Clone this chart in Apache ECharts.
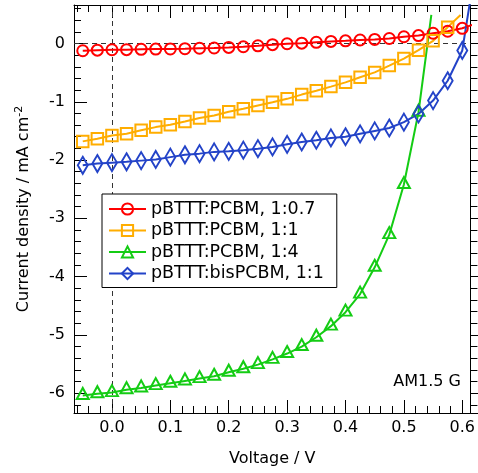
<!DOCTYPE html>
<html>
<head>
<meta charset="utf-8">
<script src="https://cdn.jsdelivr.net/npm/echarts@6/dist/echarts.min.js"></script>
<style>
html,body{margin:0;padding:0;background:#fff;}
#chart{width:478px;height:473px;}
</style>
</head>
<body>
<div id="chart"></div>
<script>
// Voltage sample points (V) where markers are drawn
const voltage = [-0.05, -0.025, 0.0, 0.025, 0.05, 0.075, 0.1, 0.125, 0.15, 0.175, 0.2, 0.225, 0.25, 0.275,
                 0.3, 0.325, 0.35, 0.375, 0.4, 0.425, 0.45, 0.475, 0.5, 0.525, 0.55, 0.575, 0.6];

// Current density (mA cm^-2)
const pcbm07 = [-0.125, -0.115, -0.108, -0.106, -0.100, -0.096, -0.094, -0.090, -0.082, -0.078, -0.068, -0.056, -0.040, -0.020,
                -0.005, 0.005, 0.020, 0.035, 0.045, 0.060, 0.070, 0.085, 0.115, 0.135, 0.175, 0.210, 0.260];
const pcbm07End = [0.623, 0.34];

const pcbm11 = [-1.68, -1.635, -1.58, -1.55, -1.49, -1.435, -1.395, -1.34, -1.28, -1.235, -1.17, -1.12, -1.065, -1.01,
                -0.95, -0.877, -0.81, -0.74, -0.667, -0.58, -0.496, -0.38, -0.26, -0.115, 0.045, 0.28];
const pcbm11End = [0.597, 0.49];

const pcbm14 = [-6.04, -6.01, -5.99, -5.94, -5.91, -5.87, -5.83, -5.79, -5.75, -5.71, -5.64, -5.58, -5.51, -5.42,
                -5.32, -5.20, -5.04, -4.85, -4.61, -4.30, -3.84, -3.28, -2.42, -1.18];
const pcbm14End = [0.547, 0.49];

const bis11 = [-2.09, -2.06, -2.045, -2.03, -2.01, -1.99, -1.95, -1.91, -1.89, -1.86, -1.85, -1.83, -1.805, -1.775,
               -1.73, -1.69, -1.66, -1.62, -1.60, -1.55, -1.50, -1.45, -1.35, -1.21, -0.98, -0.64, -0.12];
const bis11End = [0.613, 0.70];

const seriesNames = ['pBTTT:PCBM, 1:0.7', 'pBTTT:PCBM, 1:1', 'pBTTT:PCBM, 1:4', 'pBTTT:bisPCBM, 1:1'];
const seriesColors = ['#ff0000', '#ffad00', '#14cc14', '#2343c8'];

const xLimits = [-0.065, 0.614];
const yLimits = [-6.34, 0.66];

function build(vals, end) {
  const d = vals.map((v, i) => [voltage[i], v]);
  d.push({ value: end, symbol: 'none' });
  return d;
}

const FONT = 'DejaVu Sans';

function mkSeries(idx, vals, end, symbol, size, extra) {
  const c = seriesColors[idx];
  return Object.assign({
    type: 'line',
    name: seriesNames[idx],
    data: build(vals, end),
    symbol: symbol,
    symbolSize: size,
    showAllSymbol: true,
    color: c,
    lineStyle: { color: c, width: 2 },
    itemStyle: { color: 'rgba(255,255,255,0)', borderColor: c, borderWidth: 2 },
    emphasis: { disabled: true },
    animation: false,
    z: 3
  }, extra || {});
}

const chart = echarts.init(document.getElementById('chart'));

const baseX = {
  type: 'value', min: xLimits[0], max: xLimits[1], splitNumber: 7,
  axisLine: { show: true, onZero: false, lineStyle: { color: '#000', width: 1 } },
  splitLine: { show: false }
};
const baseY = {
  type: 'value', min: yLimits[0], max: yLimits[1], splitNumber: 7,
  axisLine: { show: true, onZero: false, lineStyle: { color: '#000', width: 1 } },
  splitLine: { show: false }
};

chart.setOption({
  backgroundColor: '#fff',
  animation: false,
  textStyle: { fontFamily: FONT },
  grid: { left: 74, right: 6, top: 5, bottom: 60, containLabel: false },
  xAxis: [
    Object.assign({}, baseX, {
      position: 'bottom',
      name: 'Voltage / V', nameLocation: 'middle', nameGap: 38,
      nameTextStyle: { fontFamily: FONT, fontSize: 16, color: '#000' },
      axisTick: { show: true, inside: true, length: 13, lineStyle: { color: '#000' } },
      minorTick: { show: true, splitNumber: 5, length: 7, lineStyle: { color: '#000' } },
      axisLabel: { show: true, margin: 7, fontFamily: FONT, fontSize: 16, color: '#000',
        showMinLabel: false, showMaxLabel: false,
        formatter: v => (Math.abs(v * 10 - Math.round(v * 10)) < 1e-6 ? v.toFixed(1) : '') }
    }),
    Object.assign({}, baseX, {
      position: 'top',
      axisTick: { show: true, inside: true, length: 13, lineStyle: { color: '#000' } },
      minorTick: { show: true, splitNumber: 5, length: 7, lineStyle: { color: '#000' } },
      axisLabel: { show: false }
    })
  ],
  yAxis: [
    Object.assign({}, baseY, {
      position: 'left',
      name: 'Current density / mA cm{sup|-2}', nameLocation: 'middle', nameGap: 41, nameRotate: 90,
      nameTextStyle: { fontFamily: FONT, fontSize: 16, color: '#000',
        rich: { sup: { fontFamily: FONT, fontSize: 11, color: '#000', verticalAlign: 'top', padding: [0, 0, 8, 0] } } },
      axisTick: { show: true, inside: true, length: 13, lineStyle: { color: '#000' } },
      minorTick: { show: true, splitNumber: 5, length: 7, lineStyle: { color: '#000' } },
      axisLabel: { show: true, margin: 9, fontFamily: FONT, fontSize: 16, color: '#000',
        showMinLabel: false, showMaxLabel: false,
        formatter: v => (Math.abs(v - Math.round(v)) < 1e-6 ? String(Math.round(v)) : '') }
    }),
    Object.assign({}, baseY, {
      position: 'right',
      axisTick: { show: true, inside: false, length: 13, lineStyle: { color: '#000' } },
      minorTick: { show: true, splitNumber: 5, length: 7, lineStyle: { color: '#000' } },
      axisLabel: { show: false }
    })
  ],
  legend: {
    orient: 'vertical', left: 102, top: 194,
    data: seriesNames,
    itemWidth: 37, itemHeight: 14, itemGap: 1.5,
    padding: [5, 13, 4, 6],
    backgroundColor: '#fff', borderColor: '#000', borderWidth: 1,
    textStyle: { fontFamily: FONT, fontSize: 17.5, color: '#000', lineHeight: 20 },
    selectedMode: false
  },
  graphic: [{
    type: 'text', right: 17, top: 374,
    style: { text: 'AM1.5 G', fontFamily: FONT, fontSize: 16, fill: '#000' }
  }],
  series: [
    mkSeries(0, pcbm07, pcbm07End, 'circle', 11, {
      clip: false,
      markLine: {
        silent: true, symbol: 'none', animation: false,
        label: { show: false },
        lineStyle: { color: '#333', width: 1, type: [5, 4] },
        data: [{ xAxis: 0 }, { yAxis: 0 }],
        z: 1
      }
    }),
    mkSeries(1, pcbm11, pcbm11End, 'rect', 11.5),
    mkSeries(2, pcbm14, pcbm14End, 'triangle', [12, 11], { symbolOffset: [0, -2] }),
    mkSeries(3, bis11, bis11End, 'diamond', [10, 17])
  ]
});
</script>
</body>
</html>
